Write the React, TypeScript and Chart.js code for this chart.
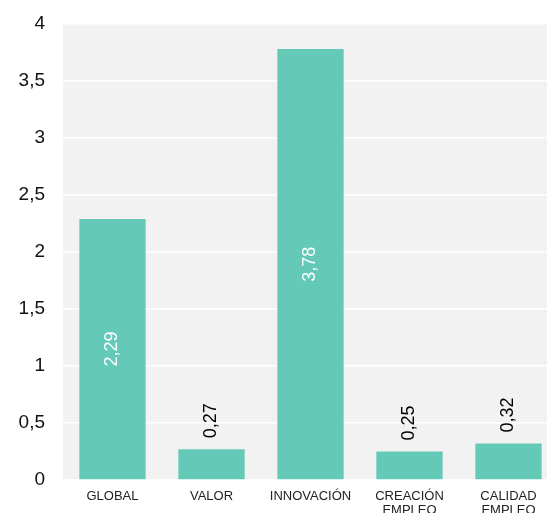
import React, { useEffect, useRef } from "react";
import { Chart, registerables } from "chart.js";

Chart.register(...registerables);

const categories: string[][] = [
  ["GLOBAL"],
  ["VALOR"],
  ["INNOVACIÓN"],
  ["CREACIÓN", "EMPLEO"],
  ["CALIDAD", "EMPLEO"],
];
const values: number[] = [2.29, 0.27, 3.78, 0.25, 0.32];
const valueLabels: string[] = ["2,29", "0,27", "3,78", "0,25", "0,32"];
const yMin = 0;
const yMax = 4;
const yStep = 0.5;

const FONT = "'Liberation Sans', Arial, sans-serif";
const BAR_COLOR = "#65c9b8";

const bgPlugin = {
  id: "plotBg",
  beforeDraw(chart: any) {
    const { ctx, chartArea } = chart;
    ctx.save();
    ctx.fillStyle = "#f2f2f2";
    ctx.fillRect(chartArea.left, chartArea.top, chartArea.right - chartArea.left, chartArea.bottom - chartArea.top);
    ctx.restore();
  },
};

const labelPlugin = {
  id: "valueLabels",
  afterDatasetsDraw(chart: any) {
    const { ctx } = chart;
    const meta = chart.getDatasetMeta(0);
    meta.data.forEach((bar: any, i: number) => {
      const v = values[i];
      ctx.save();
      ctx.font = `18px ${FONT}`;
      if (v > 1) {
        ctx.translate(bar.x, (bar.y + bar.base) / 2);
        ctx.rotate(-Math.PI / 2);
        ctx.textAlign = "center";
        ctx.textBaseline = "middle";
        ctx.fillStyle = "#ffffff";
      } else {
        ctx.translate(bar.x, bar.y - 11);
        ctx.rotate(-Math.PI / 2);
        ctx.textAlign = "left";
        ctx.textBaseline = "middle";
        ctx.fillStyle = "#000000";
      }
      ctx.fillText(valueLabels[i], 0, 0);
      ctx.restore();
    });
  },
};

export default function App() {
  const ref = useRef<HTMLCanvasElement | null>(null);

  useEffect(() => {
    if (!ref.current) return;
    const chart = new Chart(ref.current, {
      type: "bar",
      data: {
        labels: categories,
        datasets: [
          {
            data: values,
            backgroundColor: BAR_COLOR,
            borderWidth: 0,
            categoryPercentage: 1,
            barPercentage: 0.67,
          },
        ],
      },
      options: {
        animation: false,
        responsive: false,
        layout: { padding: { top: 24, left: 0, right: 0, bottom: 0 } },
        plugins: {
          legend: { display: false },
          tooltip: { enabled: false },
        },
        scales: {
          x: {
            grid: { display: false, drawTicks: false },
            border: { display: false },
            ticks: {
              color: "#222",
              font: { family: FONT, size: 13, lineHeight: 1.05 },
              padding: 10,
              maxRotation: 0,
              autoSkip: false,
            },
            afterFit(scale: any) {
              scale.height = 33;
              scale.paddingLeft = 0;
              scale.paddingRight = 0;
            },
          },
          y: {
            min: yMin,
            max: yMax,
            grid: { color: "#ffffff", lineWidth: 1.5, drawTicks: false },
            border: { display: false },
            ticks: {
              stepSize: yStep,
              color: "#111",
              font: { family: FONT, size: 19 },
              padding: 18,
              callback: (v: any) => String(v).replace(".", ","),
            },
            afterFit(scale: any) {
              scale.width = 63;
              scale.paddingTop = 0;
              scale.paddingBottom = 0;
            },
          },
        },
      },
      plugins: [bgPlugin, labelPlugin],
    });
    return () => chart.destroy();
  }, []);

  return (
    <div
      style={{
        position: "fixed",
        left: 0,
        top: 0,
        width: 547,
        height: 513,
        overflow: "hidden",
        background: "#fff",
      }}
    >
      <canvas ref={ref} width={558} height={513} style={{ display: "block", width: 558, height: 513 }} />
    </div>
  );
}
